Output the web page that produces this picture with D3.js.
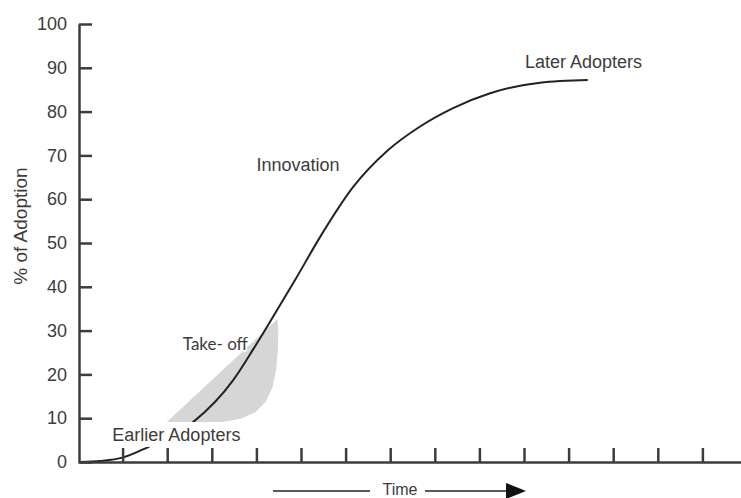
<!DOCTYPE html>
<html>
<head>
<meta charset="utf-8">
<script src="https://cdn.jsdelivr.net/npm/d3@7"></script>
<style>
  html, body { margin: 0; padding: 0; background: #fff; }
  svg { display: block; }
</style>
</head>
<body>
<svg id="chart" width="741" height="498"></svg>
<script>
// ---- data ----
const yTicks = [0, 10, 20, 30, 40, 50, 60, 70, 80, 90, 100];
const xTicks = [1, 2, 3, 4, 5, 6, 7, 8, 9, 10, 11, 12, 13, 14];
const curveTime = [0.05, 0.5, 1, 1.55, 2.58, 3.48, 3.92, 4.37, 4.87, 5.43, 6.17, 6.93, 7.67, 8.41, 9.24, 10.36, 11.43];
const curveAdoption = [0, 0.25, 1.0, 3.3, 9.1, 18.7, 25.6, 33.1, 41.6, 51.4, 62.8, 71.0, 76.6, 80.8, 84.2, 86.6, 87.2];
const takeoffTime = [2.0, 4.46, 4.48, 4.47, 4.43, 4.35, 4.2, 3.98, 3.65, 3.2, 2.6, 2.0];
const takeoffAdoption = [9.1, 32.4, 29.5, 25.5, 21.0, 17.0, 13.8, 11.5, 10.0, 9.2, 9.0, 9.1];
const labels = [
  { text: "Later Adopters", t: 10.02, v: 90 },
  { text: "Innovation", t: 4.0, v: 66.5 },
  { text: "Earlier Adopters", t: 0.77, v: 4.8 }
];
const takeoffLabel = { text: "Take- off", t: 2.35, v: 25.5 };
const yLabel = "% of Adoption";
const xLabel = "Time";

// ---- scales ----
const svg = d3.select("#chart");
const x = d3.scaleLinear().domain([0, 15]).range([78, 747]);
const y = d3.scaleLinear().domain([0, 100]).range([462, 24]);
const ink = "#3c3c3c";

// take-off shaded area
const shadePts = takeoffTime.map((t, i) => [t, takeoffAdoption[i]]);
svg.append("path")
  .attr("d", d3.line().x(d => x(d[0])).y(d => y(d[1])).curve(d3.curveLinearClosed)(shadePts))
  .attr("fill", "#d6d6d6")
  .attr("stroke", "#d6d6d6").attr("stroke-width", 1).attr("stroke-linejoin", "round");

// curve
const pts = curveTime.map((t, i) => [t, curveAdoption[i]]);
svg.append("path")
  .attr("d", d3.line().x(d => x(d[0])).y(d => y(d[1])).curve(d3.curveMonotoneX)(pts))
  .attr("fill", "none")
  .attr("stroke", "#222")
  .attr("stroke-width", 2);

// labels
labels.forEach(l => {
  const g = svg.append("g");
  const bg = g.append("rect").attr("fill", "#fff");
  const t = g.append("text")
    .attr("x", x(l.t)).attr("y", y(l.v))
    .attr("font-family", "Liberation Sans, Arial, sans-serif")
    .attr("font-size", 18)
    .attr("fill", ink)
    .text(l.text);
  const b = t.node().getBBox();
  bg.attr("x", b.x - 2).attr("y", b.y - 3).attr("width", b.width + 4).attr("height", b.height + 5);
});
svg.append("text")
  .attr("x", x(takeoffLabel.t)).attr("y", y(takeoffLabel.v))
  .attr("font-family", "Lato, Carlito, sans-serif")
  .attr("font-size", 17)
  .attr("fill", ink)
  .attr("stroke", "#fff").attr("stroke-width", 3).attr("paint-order", "stroke")
  .text(takeoffLabel.text);

// y axis
const yAxis = svg.append("g")
  .attr("transform", `translate(${x(0) + 1},0)`)
  .call(d3.axisLeft(y).tickValues(yTicks).tickSizeInner(-13).tickSizeOuter(0).tickPadding(12));
yAxis.select(".domain").attr("stroke", ink).attr("stroke-width", 2.5);
yAxis.selectAll(".tick line").attr("stroke", ink).attr("stroke-width", 2.5);
yAxis.selectAll(".tick text")
  .attr("font-family", "Liberation Sans, Arial, sans-serif")
  .attr("font-size", 18).attr("fill", ink);

// x axis
const xAxis = svg.append("g")
  .attr("transform", `translate(0,${y(0)})`)
  .call(d3.axisBottom(x).tickValues(xTicks).tickSizeInner(-14).tickSizeOuter(0).tickFormat(""));
xAxis.select(".domain").attr("stroke", ink).attr("stroke-width", 2.5);
xAxis.selectAll(".tick line").attr("stroke", ink).attr("stroke-width", 2.5);

// y axis title
svg.append("text")
  .attr("transform", "translate(27,226) rotate(-90)")
  .attr("text-anchor", "middle")
  .attr("font-family", "Liberation Sans, Arial, sans-serif")
  .attr("font-size", 19)
  .attr("fill", ink)
  .text(yLabel);

// x axis title with arrow
const tg = svg.append("g");
tg.append("line").attr("x1", 273).attr("x2", 370).attr("y1", 491).attr("y2", 491)
  .attr("stroke", "#222").attr("stroke-width", 1.5);
tg.append("text").attr("x", 400).attr("y", 495).attr("text-anchor", "middle")
  .attr("font-family", "Liberation Sans, Arial, sans-serif").attr("font-size", 16)
  .attr("fill", ink).text(xLabel);
tg.append("line").attr("x1", 425).attr("x2", 508).attr("y1", 491).attr("y2", 491)
  .attr("stroke", "#222").attr("stroke-width", 1.5);
tg.append("path").attr("d", "M506,483 L526,491 L506,499 Z").attr("fill", "#111");
</script>
</body>
</html>
